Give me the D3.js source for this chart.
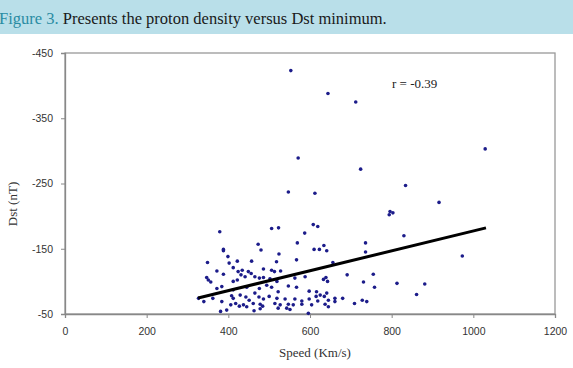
<!DOCTYPE html>
<html><head><meta charset="utf-8">
<script src="https://cdn.jsdelivr.net/npm/d3@7"></script>
<style>html,body{margin:0;padding:0;background:#fff;}svg{display:block;}</style>
</head><body>
<svg id="c" width="573" height="368"></svg>
<script>
const speed = [547,612,379,506,523,608,619,587,473,569,610,623,634,641,736,736,388,388,480,524,399,567,349,402,422,457,518,656,412,372,388,434,449,456,486,506,513,528,431,441,422,412,347,351,357,465,476,486,502,519,563,633,639,691,755,731,758,384,372,412,445,476,494,506,547,567,598,616,625,615,641,362,408,412,429,443,451,475,486,500,519,539,563,580,598,619,645,661,680,709,728,739,406,418,427,478,484,527,547,580,604,637,645,
340,384,445,463,381,522,551,327,396,461,478,543,596,559,514,437,588,465,522,424,643,635,661,
834,916,796,803,794,830,973,813,881,861,
553,644,712,571,724,1029];
const dst = [-237,-235,-176,-181,-182,-187,-184,-174,-157,-159,-149,-149,-155,-147,-159,-145,-149,-147,-148,-142,-138,-133,-129,-128,-131,-131,-130,-129,-121,-116,-111,-117,-115,-112,-119,-117,-115,-116,-110,-107,-102,-100,-106,-102,-99,-107,-105,-106,-104,-100,-105,-103,-106,-110,-111,-99,-91,-92,-89,-87,-91,-89,-94,-91,-93,-91,-85,-84,-79,-77,-82,-74,-78,-74,-79,-76,-71,-76,-73,-77,-74,-73,-73,-70,-73,-70,-71,-74,-74,-66,-71,-69,-64,-66,-62,-65,-62,-64,-65,-65,-64,-65,-61,
-69,-69,-61,-55,-54,-59,-57,-74,-56,-66,-58,-59,-51,-64,-66,-64,-107,-82,-84,-115,-100,-77,-69,
-247,-221,-207,-205,-202,-170,-139,-97,-96,-80,
-423,-388,-375,-289,-272,-303];
const xTicks = [0,200,400,600,800,1000,1200];
const yTicks = [-450,-350,-250,-150,-50];
const fitRange = [326,1031];
const fitSlope = -0.1525, fitIntercept = -24.8;
const rLabel = "r = -0.39";

const svg = d3.select("#c");
// caption bar
svg.append("rect").attr("x",0).attr("y",0).attr("width",573).attr("height",34).attr("fill","#b9dfe9");
const cap = svg.append("text").attr("x",-1).attr("y",24).attr("font-family","Liberation Serif, Times New Roman, serif").attr("font-size",16.5);
cap.append("tspan").attr("fill","#2a8ca3").text("Figure 3. ");
cap.append("tspan").attr("fill","#1a1a1a").text("Presents the proton density versus Dst minimum.");

const L=65,R=555,T=53,B=314;
const x = d3.scaleLinear().domain([0,1200]).range([L,R]);
const y = d3.scaleLinear().domain([-50,-450]).range([B,T]);

// frame
svg.append("rect").attr("x",L).attr("y",T).attr("width",R-L).attr("height",B-T).attr("fill","none").attr("stroke","#999").attr("stroke-width",1.3);

const fmt = d => String(d);
const gx = svg.append("g").attr("transform",`translate(0,${B})`)
  .call(d3.axisBottom(x).tickValues(xTicks).tickSize(4).tickPadding(10).tickFormat(fmt));
const gy = svg.append("g").attr("transform",`translate(${L},0)`)
  .call(d3.axisLeft(y).tickValues(yTicks).tickSize(4).tickPadding(8).tickFormat(fmt));
[gx,gy].forEach(g=>{
  g.select(".domain").attr("stroke","#888").attr("stroke-width",1.3);
  g.selectAll(".tick line").attr("stroke","#888");
  g.selectAll("text").attr("font-family","Liberation Sans, Arial, sans-serif").attr("font-size",10.5).attr("fill","#333");
});

// points
svg.append("g").selectAll("circle").data(speed.map((s,i)=>[s,dst[i]])).join("circle")
  .attr("cx",d=>x(d[0])).attr("cy",d=>y(d[1])).attr("r",1.8).attr("fill","#1c1c8a");

// fit line
svg.append("line")
  .attr("x1",x(fitRange[0])).attr("y1",y(fitIntercept+fitSlope*fitRange[0]))
  .attr("x2",x(fitRange[1])).attr("y2",y(fitIntercept+fitSlope*fitRange[1]))
  .attr("stroke","#000").attr("stroke-width",3);

svg.append("text").attr("x",392).attr("y",88).attr("font-family","Liberation Serif, Times New Roman, serif").attr("font-size",13).attr("fill","#222").text(rLabel);

svg.append("text").attr("x",(L+R)/2+5).attr("y",357).attr("text-anchor","middle").attr("font-family","Liberation Serif, Times New Roman, serif").attr("font-size",13).attr("fill","#333").text("Speed (Km/s)");
svg.append("text").attr("transform","translate(17,204) rotate(-90)").attr("text-anchor","middle").attr("font-family","Liberation Serif, Times New Roman, serif").attr("font-size",13).attr("fill","#333").text("Dst (nT)");
</script>
</body></html>
